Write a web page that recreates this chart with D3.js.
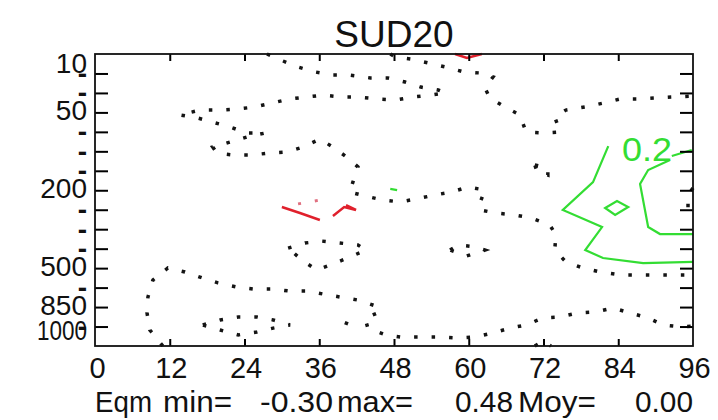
<!DOCTYPE html>
<html><head><meta charset="utf-8">
<script src="https://cdn.jsdelivr.net/npm/d3@7"></script>
<style>body{margin:0;background:#fff}svg{display:block}</style>
</head><body><svg id="c" width="718" height="420"></svg>
<script>
// ---------------- data ----------------
const title = "SUD20";
const xTicks = [0, 12, 24, 36, 48, 60, 72, 84, 96];
const levels = [10, 20, 30, 50, 70, 100, 150, 200, 250, 300, 400, 500, 700, 850, 925, 1000];
const levelLabels = ["10","-","-","50","-","-","-","200","-","-","-","500","-","850","-","1000"];
const statPrefix = "Eqm";
const statNames = ["min=", "max=", "Moy="];
const statValues = [-0.30, 0.48, 0.00];

// contour lines: [hour, level index]
const zeroOpen = [
  [[27.6,0],[30.2,0.36],[32.6,0.67],[35.3,0.92],[38.2,1.08],[40.9,1.08],[44.2,1.23],[47.0,1.23],[49.8,1.44],[52.3,1.70],[55.1,1.85],[56.3,2.0],[53.9,2.11],[51.1,2.21],[48.3,2.36],[45.4,2.31],[42.2,2.21],[39.7,2.21],[36.6,2.11],[34.0,2.21],[31.3,2.31],[28.4,2.52],[25.7,2.72],[22.8,2.83],[20.1,2.88],[16.9,2.88],[13.6,3.13],[16.5,3.29],[19.3,3.54],[21.7,3.75],[24.4,4.06],[27.3,4.06],[24.4,4.26],[21.7,4.52],[18.9,4.78],[19.6,5.09],[22.2,5.19],[25.2,5.19],[27.8,5.09],[30.8,5.03],[33.4,4.78],[36.1,4.37],[38.2,4.78],[40.6,5.34],[42.2,5.80],[41.4,6.58],[40.9,7.09],[43.3,7.29],[46.2,7.5],[49.0,7.6],[51.5,7.45],[54.6,7.24],[57.2,7.09],[59.9,6.83],[62.6,6.99],[61.8,7.65],[61.8,8.01],[64.4,8.17],[67.4,8.27],[70.0,8.42],[73.0,8.78],[74.0,9.30],[73.8,10.07],[75.6,10.68],[78.3,10.99],[81.2,11.2],[84.3,11.35],[86.9,11.35],[89.6,11.35],[92.5,11.35],[96,11.35]],
  [[47.4,0],[48.2,0.15],[50.7,0.26],[53.5,0.46],[56.3,0.67],[59.2,0.92],[62.1,0.98],[63.9,1.18],[62.6,1.75],[63.4,2.26],[65.8,2.72],[68.2,3.13],[69.2,4.01],[72.2,4.06],[74.7,4.01],[73.8,3.24],[75.6,2.88],[78.7,2.72],[81.6,2.52],[84.3,2.31],[87.2,2.31],[89.9,2.26],[92.5,2.21],[96,2.16]],
  [[10.9,15],[8.8,14.18],[8.35,13.30],[8.5,12.48],[9.3,11.61],[11.7,10.99],[14.45,11.2],[17.2,11.5],[19.75,11.76],[22.8,11.97],[25.4,12.07],[28.4,12.07],[31.0,12.17],[34.0,12.17],[36.6,12.33],[39.3,12.48],[42.2,12.64],[45.1,12.95],[45.75,13.25],[43.35,13.56],[43.8,14.08],[46.7,14.43],[49.1,14.54],[52.3,14.54],[55.4,14.54],[58.3,14.59],[61.0,14.54],[63.9,14.33],[66.6,14.08],[69.2,13.92],[71.9,13.56],[74.65,13.51],[77.5,13.30],[80.4,13.25],[83.2,13.05],[85.9,13.30],[88.8,13.56],[91.2,13.92],[94.1,14.02],[96,13.97]],
  [[96,6.88],[95.2,7.24],[95.2,8.01],[96,8.53]],
  [[70.6,15],[71.9,14.75],[73.2,15]],
  [[40.1,13.8],[41.7,14.0]]
];
const zeroClosed = [
  [[31.0,9.97],[33.7,9.71],[36.4,9.61],[39.3,9.71],[42.2,9.81],[43.5,10.07],[40.9,10.43],[38.2,10.79],[35.6,11.10],[33.2,10.58]],
  [[17.3,13.92],[20.1,13.66],[23.0,13.51],[26.0,13.51],[28.6,13.66],[31.3,13.92],[28.6,14.08],[26.0,14.28],[23.0,14.43],[20.1,14.18]],
  [[57.0,10.07],[58.3,9.81],[61.2,9.91],[62.6,10.07],[59.6,10.38]],
  [[70.6,5.70],[72.7,5.86],[72.7,6.22],[71.0,6.06]]
];
const negLines = [
  [[57.8,0],[59.7,0.2],[62.1,0]],
  [[30.0,7.86],[32.9,8.17],[36.1,8.53]],
  [[38.2,8.32],[40.0,7.86],[41.9,8.01],[40.3,7.76]]
];
const negFaint = [
  [[32.6,7.7],[36.1,7.5]]
];
const posLines = [
  [[95.8,4.93],[92.6,5.24]],
  [[82.4,4.73],[79.95,6.58],[75.1,8.01],[81.4,8.89],[78.7,10.07],[81.55,10.48],[88.0,10.74],[96,10.68]],
  [[92.3,5.45],[88.8,5.96],[87.5,6.68],[88.8,8.89],[90.7,9.25],[96,9.25]],
  [[47.4,6.93],[48.5,6.99]]
];
const posClosed = [
  [[81.9,7.91],[83.8,7.55],[85.6,7.86],[83.5,8.27]]
];
const posLabel = {text: "0.2", hour: 84.6, lev: 5.5};

// ---------------- drawing ----------------
const svg = d3.select("#c");
const L = 95, R = 693, T = 54, B = 346;
const x = d3.scaleLinear().domain([0, 96]).range([L, R]);
const y = d3.scaleLinear().domain([0, levels.length - 1]).range([T, B]);
const font = "'Liberation Sans', Arial, Helvetica, sans-serif";
const ink = "#111";

svg.append("text").attr("x", (L + R) / 2).attr("y", 47).attr("text-anchor", "middle")
  .attr("font-family", font).attr("font-size", 37).attr("fill", "#111").text(title);

const line = d3.line().x(d => x(d[0])).y(d => y(d[1]));
const closed = d3.line().x(d => x(d[0])).y(d => y(d[1])).curve(d3.curveLinearClosed);

const g = svg.append("g");
const dotted = sel => sel.attr("fill", "none").attr("stroke", "#141414").attr("stroke-width", 3.5)
  .attr("stroke-dasharray", "3.5,14");
zeroOpen.forEach(c => g.append("path").attr("d", line(c)).call(dotted));
zeroClosed.forEach(c => g.append("path").attr("d", closed(c)).call(dotted));

negLines.forEach(c => g.append("path").attr("d", line(c)).attr("fill", "none")
  .attr("stroke", "#e0202c").attr("stroke-width", 2.5));
negFaint.forEach(c => g.append("path").attr("d", line(c)).attr("fill", "none")
  .attr("stroke", "#e07080").attr("stroke-width", 3).attr("stroke-dasharray", "3,14"));

posLines.forEach(c => g.append("path").attr("d", line(c)).attr("fill", "none")
  .attr("stroke", "#33dd33").attr("stroke-width", 2.2));
posClosed.forEach(c => g.append("path").attr("d", closed(c)).attr("fill", "none")
  .attr("stroke", "#33dd33").attr("stroke-width", 2.2));
g.append("text").attr("x", x(posLabel.hour)).attr("y", y(posLabel.lev))
  .attr("font-family", font).attr("font-size", 34).attr("fill", "#33dd33")
  .attr("textLength", 50).attr("lengthAdjust", "spacingAndGlyphs").text(posLabel.text);

// axes: d3 axes with inward ticks
const styleAxis = a => { a.select(".domain").remove();
  a.selectAll(".tick line").attr("stroke", "#000").attr("stroke-width", 2);
  a.selectAll("text").attr("font-family", font).attr("fill", "#111"); };
const inner = xTicks.slice(1, -1);
const lv = d3.range(1, levels.length - 1);

const xb = svg.append("g").attr("transform", `translate(0,${B})`)
  .call(d3.axisBottom(x).tickValues(xTicks).tickSize(-7).tickSizeOuter(0).tickPadding(11));
styleAxis(xb);
xb.selectAll(".tick line").attr("display", d => inner.includes(d) ? null : "none");
xb.selectAll("text").attr("font-size", 29).attr("dx", d => d === 0 ? 2 : 1);

const xt = svg.append("g").attr("transform", `translate(0,${T})`)
  .call(d3.axisTop(x).tickValues(inner).tickSize(-7).tickSizeOuter(0).tickFormat(""));
styleAxis(xt);

const yl = svg.append("g").attr("transform", `translate(${L},0)`)
  .call(d3.axisLeft(y).tickValues(d3.range(levels.length)).tickSize(-13).tickSizeOuter(0)
    .tickPadding(8).tickFormat(i => levelLabels[i]));
styleAxis(yl);
yl.selectAll(".tick line").attr("display", d => lv.includes(d) ? null : "none");
yl.selectAll("text").attr("font-size", 28)
  .attr("y", i => i === 0 ? 10 : (i === levels.length - 1 ? -15 : (levelLabels[i] === "-" ? 0 : -2)))
  .attr("font-weight", i => levelLabels[i] === "-" ? "bold" : "normal")
  .attr("textLength", i => levelLabels[i].length === 4 ? 50 : null)
  .attr("lengthAdjust", "spacingAndGlyphs");

const yr = svg.append("g").attr("transform", `translate(${R},0)`)
  .call(d3.axisRight(y).tickValues(lv).tickSize(-13).tickSizeOuter(0).tickFormat(""));
styleAxis(yr);

svg.append("rect").attr("x", L).attr("y", T).attr("width", R - L).attr("height", B - T)
  .attr("fill", "none").attr("stroke", ink).attr("stroke-width", 1.8);

// stats line
const fmt = v => d3.format(".2f")(v).replace("\u2212", "-");
const statText = [statPrefix, statNames[0], fmt(statValues[0]), statNames[1], fmt(statValues[1]), statNames[2], fmt(statValues[2])];
const statX = [95, 163, 260, 337, 455, 518, 635];
const statW = [57, 69, 73, 76, 58, 78, 58];
svg.append("g").selectAll("text").data(statText).join("text")
  .attr("x", (d, i) => statX[i]).attr("y", 412)
  .attr("font-family", font).attr("font-size", 29).attr("fill", "#111")
  .attr("textLength", (d, i) => statW[i]).attr("lengthAdjust", "spacingAndGlyphs")
  .text(d => d);
</script></body></html>
